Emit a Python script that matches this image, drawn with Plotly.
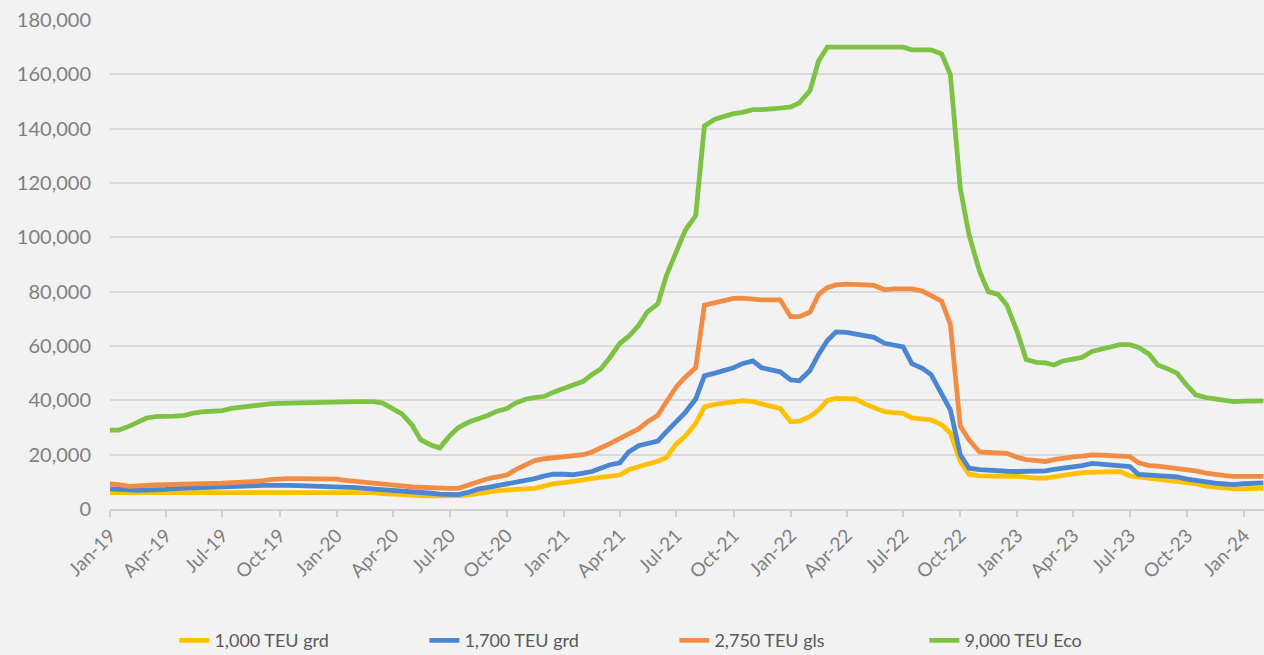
import pandas as pd
import plotly.graph_objects as go

# Semi-monthly observation dates (1st and 15th of each month), Jan-2019 .. Feb-2024
dates = pd.date_range("2019-01-01", periods=123, freq="SMS")

teu_1000_grd = [
    6000, 6000, 6000, 6000, 6000, 6000, 6200, 6200, 6200, 6200, 6200, 6200,
    6200, 6200, 6200, 6200, 6200, 6200, 6200, 6200, 6200, 6200, 6200, 6200,
    6200, 6200, 6200, 6200, 6000, 5700, 5400, 5200, 5000, 4900, 4800, 4700,
    4800, 4900, 5200, 5800, 6300, 6700, 7000, 7200, 7400, 7600, 8500, 9300,
    9700, 10000, 10700, 11300, 11800, 12000, 12500, 14500, 15800, 16500, 17600, 19000,
    24000, 26800, 31500, 37600, 38500, 39000, 39500, 39900, 39500, 38900, 37800, 37000,
    32100, 32300, 34000, 36500, 40000, 40700, 40700, 40500, 38600, 37200, 35800, 35500,
    35200, 33500, 33200, 32800, 31000, 28000, 17500, 12800, 12200, 12000, 12000, 12000,
    12000, 11600, 11400, 11400, 12000, 12400, 12900, 13400, 13600, 13700, 13800, 13800,
    12200, 11800, 11200, 10800, 10600, 10200, 9800, 9300, 8400, 8000, 7700, 7400,
    7400, 7600, 7700,
]

teu_1700_grd = [
    7400, 7200, 6800, 6900, 7000, 7000, 7200, 7500, 7600, 7700, 7700, 7800,
    7900, 7900, 8200, 8500, 8700, 8800, 8800, 8700, 8600, 8500, 8500, 8500,
    8400, 8200, 7900, 7600, 7400, 7100, 6800, 6600, 6300, 6000, 5800, 5500,
    5400, 5300, 6200, 7300, 8000, 8600, 9000, 9700, 10400, 11200, 12200, 12800,
    12800, 12600, 13200, 13800, 15000, 16200, 17000, 21000, 23300, 24000, 25000, 28500,
    32000, 35500, 40500, 49000, 50000, 51000, 52000, 53500, 54500, 52000, 51000, 50500,
    47500, 47200, 51000, 57000, 62000, 65200, 65000, 64500, 63800, 63200, 61000, 60200,
    59700, 53500, 51800, 49500, 42000, 36500, 20000, 15000, 14500, 14200, 14000, 13900,
    13800, 13800, 13800, 14000, 14600, 15000, 15500, 16000, 16800, 16600, 16300, 16000,
    15600, 12700, 12500, 12300, 12300, 11800, 11000, 10400, 9700, 9500, 9200, 9000,
    9300, 9500, 9600,
]

teu_2750_gls = [
    9200, 9000, 8300, 8600, 8800, 8900, 9000, 9000, 9200, 9300, 9400, 9400,
    9500, 9600, 9800, 10000, 10300, 10800, 11100, 11200, 11200, 11200, 11200, 11200,
    11000, 10500, 10200, 9800, 9500, 9200, 8900, 8500, 8100, 7900, 7700, 7600,
    7600, 7600, 9000, 10200, 11200, 11800, 12500, 14500, 16200, 17800, 18500, 18800,
    19000, 19200, 20000, 21000, 22300, 24000, 26000, 27500, 29500, 32000, 34500, 39500,
    45000, 48500, 52000, 75000, 76000, 76800, 77500, 77600, 77200, 77000, 77000, 77000,
    70800, 70800, 72500, 79000, 81500, 82500, 82800, 82800, 82500, 82300, 80700, 81000,
    81200, 81000, 80200, 78500, 76500, 68000, 30500, 25500, 21000, 20800, 20800, 20500,
    19000, 18200, 17800, 17500, 18200, 18800, 19200, 19500, 19900, 19800, 19500, 19300,
    19300, 17000, 16000, 15800, 15300, 15000, 14800, 14000, 13200, 12600, 12300, 12000,
    12000, 12000, 12000,
]

teu_9000_eco = [
    29000, 29000, 30500, 32000, 33500, 34000, 34000, 34200, 34500, 35300, 35800, 36000,
    36200, 37000, 37500, 38000, 38400, 38700, 38900, 39000, 39000, 39200, 39500, 39500,
    39500, 39500, 39500, 39500, 39500, 39000, 37000, 35000, 31000, 25500, 23500, 22500,
    27000, 30000, 32000, 33000, 34500, 36000, 37000, 39000, 40500, 41000, 41500, 43000,
    44500, 45700, 47000, 49500, 51500, 55500, 61000, 63500, 67500, 72500, 75500, 86000,
    94500, 102500, 108000, 141000, 143500, 144500, 145500, 146000, 147000, 147000, 147500, 147600,
    148000, 149500, 154000, 165000, 170000, 170000, 170000, 170000, 170000, 170000, 170000, 170000,
    170000, 169000, 169000, 169000, 167500, 160000, 118000, 101000, 87500, 80000, 79000, 75000,
    65000, 55000, 54000, 53800, 53000, 54500, 55200, 55800, 58000, 58800, 60000, 60500,
    60500, 59500, 57000, 53000, 51500, 50000, 45500, 42000, 41000, 40500, 40000, 39500,
    39700, 39800, 39800,
]

series_names = ["1,000 TEU grd", "1,700 TEU grd", "2,750 TEU gls", "9,000 TEU Eco"]
series_values = [teu_1000_grd, teu_1700_grd, teu_2750_gls, teu_9000_eco]
series_colors = ["#FFC000", "#4A86D1", "#F18C45", "#7DC243"]

y_ticks = [0, 20000, 40000, 60000, 80000, 100000, 120000, 140000, 160000, 180000]

FONT = "Lato, 'Open Sans', sans-serif"
GRAY = "#7f7f7f"

fig = go.Figure()
for name, vals, col in zip(series_names, series_values, series_colors):
    fig.add_trace(go.Scatter(
        x=dates, y=vals, mode="lines", name=name,
        line=dict(color=col, width=4.8),
    ))

fig.update_layout(
    width=1264, height=655,
    paper_bgcolor="#f2f2f2", plot_bgcolor="#f2f2f2",
    margin=dict(l=110, r=0, t=20, b=146),
    font=dict(family=FONT, color=GRAY),
    showlegend=True,
    legend=dict(
        orientation="h", xref="container", yref="container",
        x=0.138, y=0.022, xanchor="left", yanchor="middle",
        font=dict(size=18, color="#595959", family=FONT),
        entrywidth=205, entrywidthmode="pixels",
        bgcolor="rgba(0,0,0,0)",
    ),
)

fig.update_xaxes(
    type="date",
    range=["2019-01-01", "2024-02-02"],
    tick0="2019-01-01", dtick="M3", tickformat="%b-%y",
    tickangle=-45,
    tickfont=dict(size=19, color=GRAY),
    showgrid=False,
    showline=True, linecolor="#d0d0d0", linewidth=2,
    ticks="outside", ticklen=6, tickcolor="#d0d0d0", tickwidth=1.5,
    zeroline=False,
)

fig.update_yaxes(
    range=[0, 180000],
    tickvals=y_ticks,
    tickformat=",d",
    tickfont=dict(size=20, color=GRAY),
    showgrid=True, gridcolor="#d9d9d9", gridwidth=2,
    zeroline=False,
    showline=False,
    ticks="", ticklabelstandoff=18,
)

fig.write_html(
    "out.html",
    config={"displayModeBar": False},
    post_script="document.body.style.margin='0';document.body.style.background='#f2f2f2';",
)
